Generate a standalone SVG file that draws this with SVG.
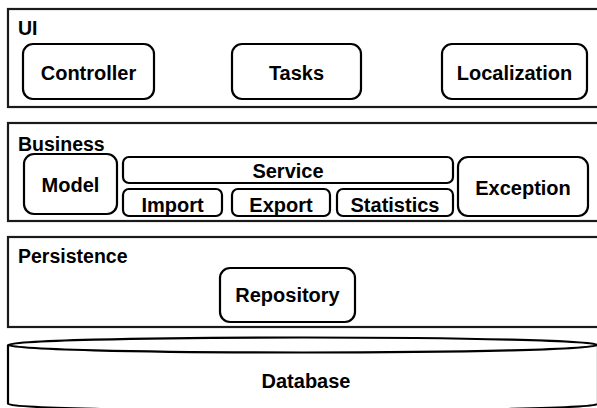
<svg xmlns="http://www.w3.org/2000/svg" width="597" height="408" viewBox="0 0 597 408">
  <style>
    .layer { fill: #fff; stroke: #1a1a1a; stroke-width: 2.2; }
    .node { fill: #fff; stroke: #000; stroke-width: 2.2; }
    .db { fill: #fff; stroke: #000; stroke-width: 2.2; }
    text { font-family: "Liberation Sans", Arial, sans-serif; font-weight: bold; fill: #000; }
    .lbl { font-size: 20px; text-anchor: middle; }
    .title { font-size: 19.5px; }
  </style>
  <rect width="597" height="408" fill="#fff"/>

  <!-- UI layer -->
  <g id="layer-ui">
    <rect class="layer" x="8" y="9" width="600" height="98"/>
    <text class="title" x="18" y="35">UI</text>
  </g>
  <g id="controller">
    <rect class="node" x="23" y="44" width="131" height="55" rx="10"/>
    <text class="lbl" x="88.5" y="80">Controller</text>
  </g>
  <g id="tasks">
    <rect class="node" x="232" y="44" width="129" height="55" rx="10"/>
    <text class="lbl" x="296.5" y="80">Tasks</text>
  </g>
  <g id="localization">
    <rect class="node" x="442" y="44" width="145" height="55" rx="10"/>
    <text class="lbl" x="514.5" y="80">Localization</text>
  </g>

  <!-- Business layer -->
  <g id="layer-business">
    <rect class="layer" x="8" y="123" width="600" height="98"/>
    <text class="title" x="18" y="151">Business</text>
  </g>
  <g id="model">
    <rect class="node" x="24" y="154" width="93" height="60" rx="10"/>
    <text class="lbl" x="70.5" y="192">Model</text>
  </g>
  <g id="service">
    <rect class="node" x="123" y="157" width="330" height="26" rx="6"/>
    <text class="lbl" x="288" y="178">Service</text>
  </g>
  <g id="import">
    <rect class="node" x="123" y="189" width="99" height="27" rx="6"/>
    <text class="lbl" x="172.5" y="212">Import</text>
  </g>
  <g id="export">
    <rect class="node" x="232" y="189" width="98" height="27" rx="6"/>
    <text class="lbl" x="281" y="212">Export</text>
  </g>
  <g id="statistics">
    <rect class="node" x="337" y="189" width="116" height="27" rx="6"/>
    <text class="lbl" x="395" y="212">Statistics</text>
  </g>
  <g id="exception">
    <rect class="node" x="458" y="157" width="130" height="59" rx="10"/>
    <text class="lbl" x="523" y="195">Exception</text>
  </g>

  <!-- Persistence layer -->
  <g id="layer-persistence">
    <rect class="layer" x="8" y="237" width="600" height="90"/>
    <text class="title" x="18" y="263">Persistence</text>
  </g>
  <g id="repository">
    <rect class="node" x="220" y="268" width="135" height="54" rx="10"/>
    <text class="lbl" x="287.5" y="302">Repository</text>
  </g>

  <!-- Database cylinder -->
  <g id="database">
    <path class="db" d="M8,345 L8,404 A295,7 0 0,0 598,404 L598,345"/>
    <ellipse class="db" cx="303" cy="345" rx="295" ry="7.5"/>
    <text class="lbl" x="306" y="388">Database</text>
  </g>

  <!-- no connectors in this layered view -->
  <g id="connectors"/>
</svg>
